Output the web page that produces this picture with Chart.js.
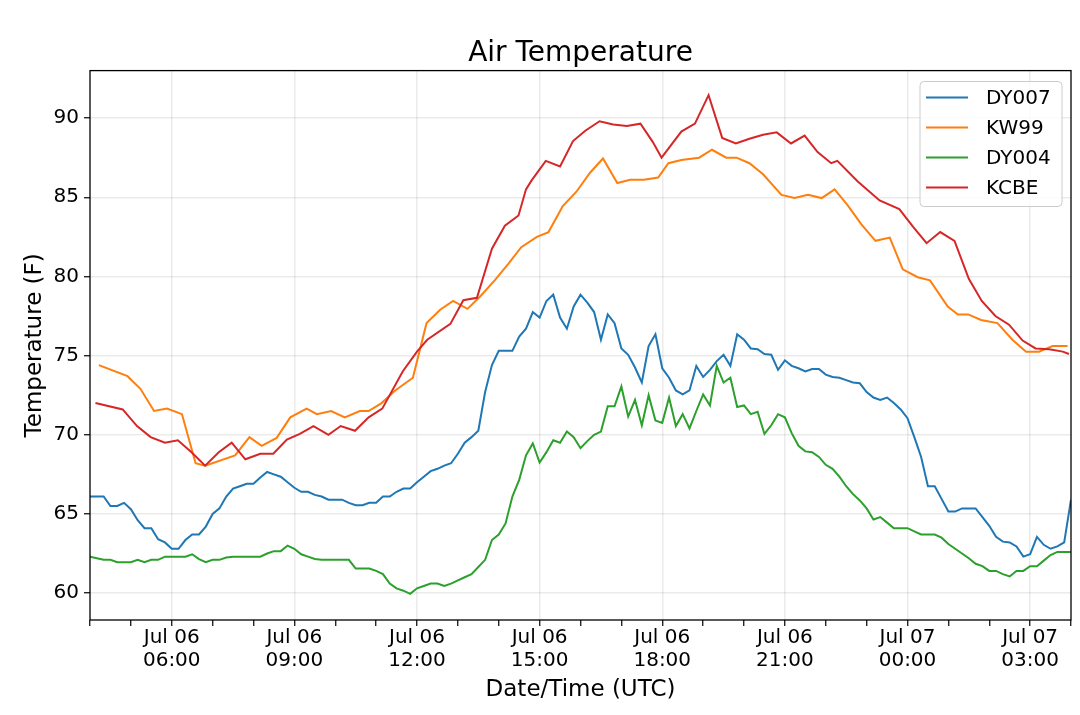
<!DOCTYPE html>
<html>
<head>
<meta charset="utf-8">
<title>Air Temperature</title>
<script src="https://cdn.jsdelivr.net/npm/chart.js@4.4.1/dist/chart.umd.min.js"></script>
<style>
  html, body { margin: 0; padding: 0; background: #ffffff; }
  #wrap { width: 1080px; height: 715px; }
</style>
</head>
<body>
<div id="wrap"><canvas id="tempChart" width="1080" height="715"></canvas></div>
<script>
// Estações DY: leituras a cada 10 minutos, começando em Jul 06 04:00 UTC
const dyStartHour = 4;
const dyStepMinutes = 10;

const dy007 = [
    66.1, 66.1, 66.1, 65.5, 65.5, 65.7, 65.3, 64.6, 64.1, 64.1,
    63.4, 63.2, 62.8, 62.8, 63.35, 63.7, 63.7, 64.2, 65.0, 65.35,
    66.1, 66.6, 66.75, 66.9, 66.9, 67.3, 67.65, 67.5, 67.35, 67.0,
    66.65, 66.4, 66.4, 66.2, 66.1, 65.9, 65.9, 65.9, 65.7, 65.55,
    65.55, 65.7, 65.7, 66.1, 66.1, 66.4, 66.6, 66.6, 67.0, 67.35,
    67.7, 67.85, 68.05, 68.2, 68.8, 69.5, 69.85, 70.25, 72.7, 74.4,
    75.3, 75.3, 75.3, 76.2, 76.7, 77.75, 77.4, 78.45, 78.85, 77.4,
    76.7, 78.1, 78.85, 78.35, 77.75, 76.0, 77.6, 77.05, 75.45, 75.05,
    74.25, 73.3, 75.6, 76.35, 74.2, 73.6, 72.8, 72.55, 72.8, 74.35,
    73.65, 74.1, 74.65, 75.05, 74.35, 76.35, 76.0, 75.45, 75.4, 75.1,
    75.05, 74.1, 74.7, 74.35, 74.2, 74.0, 74.15, 74.15, 73.8, 73.65,
    73.6, 73.45, 73.3, 73.25, 72.7, 72.35, 72.2, 72.35, 72.0, 71.6,
    71.05, 69.85, 68.6, 66.75, 66.75, 65.95, 65.15, 65.15, 65.35, 65.35,
    65.35, 64.8, 64.25, 63.55, 63.25, 63.2, 62.95, 62.3, 62.45, 63.55,
    63.05, 62.8, 62.95, 63.2, 65.9
];

const dy004 = [
    62.3, 62.2, 62.1, 62.1, 61.95, 61.95, 61.95, 62.1, 61.95, 62.1,
    62.1, 62.3, 62.3, 62.3, 62.3, 62.45, 62.15, 61.95, 62.1, 62.1,
    62.25, 62.3, 62.3, 62.3, 62.3, 62.3, 62.5, 62.65, 62.65, 63.0,
    62.8, 62.45, 62.3, 62.15, 62.1, 62.1, 62.1, 62.1, 62.1, 61.55,
    61.55, 61.55, 61.4, 61.2, 60.6, 60.3, 60.15, 59.95, 60.3, 60.45,
    60.6, 60.6, 60.45, 60.6, 60.8, 61.0, 61.2, 61.65, 62.1, 63.35,
    63.7, 64.4, 66.1, 67.15, 68.7, 69.45, 68.25, 68.9, 69.65, 69.5,
    70.2, 69.85, 69.15, 69.6, 70.0, 70.2, 71.8, 71.8, 73.05, 71.15,
    72.2, 70.6, 72.5, 70.9, 70.75, 72.35, 70.55, 71.3, 70.4, 71.5,
    72.55, 71.85, 74.35, 73.3, 73.6, 71.75, 71.85, 71.3, 71.45, 70.05,
    70.6, 71.3, 71.1, 70.1, 69.3, 68.95, 68.9, 68.6, 68.1, 67.85,
    67.35, 66.75, 66.25, 65.85, 65.35, 64.65, 64.8, 64.45, 64.1, 64.1,
    64.1, 63.9, 63.7, 63.7, 63.7, 63.5, 63.1, 62.8, 62.5, 62.2,
    61.85, 61.7, 61.4, 61.4, 61.2, 61.05, 61.4, 61.4, 61.7, 61.7,
    62.05, 62.4, 62.6, 62.6, 62.6
];

// Estações de aeroporto: horários irregulares (UTC)
const kw99Times = [
    '04:13', '04:55', '05:14', '05:34', '05:53', '06:15', '06:35', '06:49', '07:33', '07:54',
    '08:12', '08:34', '08:54', '09:18', '09:33', '09:54', '10:14', '10:36', '10:49', '11:08',
    '11:28', '11:54', '12:14', '12:34', '12:53', '13:14', '13:32', '13:54', '14:14', '14:33',
    '14:56', '15:13', '15:34', '15:54', '16:14', '16:33', '16:54', '17:13', '17:33', '17:54',
    '18:09', '18:28', '18:54', '19:13', '19:34', '19:49', '20:08', '20:28', '20:55', '21:14',
    '21:34', '21:54', '22:13', '22:32', '22:52', '23:13', '23:34', '23:53', '00:15', '00:33',
    '00:59', '01:14', '01:29', '01:48', '02:12', '02:34', '02:54', '03:13', '03:33', '03:55'
];
const kw99Temps = [
    74.4, 73.7, 72.9, 71.5, 71.65, 71.3, 68.2, 68.05, 68.7, 69.85,
    69.3, 69.8, 71.1, 71.65, 71.3, 71.5, 71.1, 71.5, 71.5, 72.0,
    72.8, 73.6, 77.05, 77.9, 78.45, 77.95, 78.7, 79.75, 80.8, 81.85,
    82.5, 82.8, 84.45, 85.35, 86.55, 87.45, 85.9, 86.1, 86.1, 86.25,
    87.15, 87.35, 87.5, 88.0, 87.5, 87.5, 87.15, 86.45, 85.15, 84.95,
    85.15, 84.95, 85.5, 84.5, 83.3, 82.25, 82.45, 80.45, 79.95, 79.75,
    78.1, 77.6, 77.6, 77.25, 77.05, 76.0, 75.25, 75.25, 75.6, 75.6
];

const kcbeTimes = [
    '04:08', '04:48', '05:09', '05:29', '05:50', '06:09', '06:29', '06:49', '07:09', '07:28',
    '07:48', '08:10', '08:29', '08:49', '09:08', '09:28', '09:50', '10:08', '10:29', '10:49',
    '11:09', '11:39', '12:00', '12:15', '12:49', '13:08', '13:28', '13:50', '14:09', '14:29',
    '14:40', '14:48', '15:09', '15:30', '15:49', '16:07', '16:28', '16:48', '17:08', '17:28',
    '17:46', '17:59', '18:28', '18:48', '19:08', '19:28', '19:48', '20:08', '20:28', '20:48',
    '21:09', '21:29', '21:48', '22:08', '22:17', '22:47', '23:19', '23:48', '00:08', '00:28',
    '00:48', '01:09', '01:30', '01:49', '02:09', '02:29', '02:49', '03:08', '03:28', '03:48',
    '03:57'
];
const kcbeTemps = [
    72.0, 71.6, 70.55, 69.85, 69.5, 69.65, 68.9, 68.05, 68.9, 69.5,
    68.45, 68.8, 68.8, 69.7, 70.05, 70.55, 70.0, 70.55, 70.25, 71.1,
    71.65, 74.0, 75.25, 76.0, 77.0, 78.5, 78.65, 81.75, 83.2, 83.85,
    85.5, 86.05, 87.3, 86.95, 88.55, 89.2, 89.8, 89.6, 89.5, 89.65,
    88.5, 87.5, 89.15, 89.65, 91.45, 88.75, 88.4, 88.7, 88.95, 89.1,
    88.4, 88.9, 87.85, 87.15, 87.3, 86.0, 84.8, 84.25, 83.15, 82.1,
    82.8, 82.25, 79.85, 78.45, 77.5, 76.95, 75.95, 75.45, 75.4, 75.25,
    75.1
];

// Eixos
const xMinHour = 4;
const xMaxHour = 28;
const xTickHours = [6, 9, 12, 15, 18, 21, 24, 27];
const xTickDates = ['Jul 06', 'Jul 06', 'Jul 06', 'Jul 06', 'Jul 06', 'Jul 06', 'Jul 07', 'Jul 07'];
const xTickTimes = ['06:00', '09:00', '12:00', '15:00', '18:00', '21:00', '00:00', '03:00'];
const yTickValues = [60, 65, 70, 75, 80, 85, 90];

const FONT = 'DejaVu Sans';
const GRID = 'rgba(0,0,0,0.08)';

// Converte 'HH:MM' em horas desde Jul 06 00:00 (depois da meia-noite = dia seguinte)
function toHours(hhmm) {
    const parts = hhmm.split(':').map(Number);
    let h = parts[0] + parts[1] / 60;
    if (h < xMinHour) h += 24;
    return h;
}

function dyPoints(values) {
    return values.map((v, i) => ({ x: dyStartHour + i * dyStepMinutes / 60, y: v }));
}

function stationPoints(times, temps) {
    return times.map((t, i) => ({ x: toHours(t), y: temps[i] }));
}

// Moldura completa em volta da área do gráfico
const framePlugin = {
    id: 'frame',
    afterDatasetsDraw(chart) {
        const a = chart.chartArea;
        const ctx = chart.ctx;
        ctx.save();
        ctx.strokeStyle = '#000000';
        ctx.lineWidth = 1.3;
        ctx.strokeRect(a.left, a.top, a.right - a.left, a.bottom - a.top);
        ctx.restore();
    }
};

// Legenda no canto superior direito, estilo matplotlib
const legendPlugin = {
    id: 'boxLegend',
    afterDraw(chart) {
        const ctx = chart.ctx;
        const x = 920, y = 81.5, w = 142, h = 125, r = 4;
        ctx.save();
        ctx.beginPath();
        ctx.moveTo(x + r, y);
        ctx.arcTo(x + w, y, x + w, y + h, r);
        ctx.arcTo(x + w, y + h, x, y + h, r);
        ctx.arcTo(x, y + h, x, y, r);
        ctx.arcTo(x, y, x + w, y, r);
        ctx.closePath();
        ctx.fillStyle = 'rgba(255,255,255,0.8)';
        ctx.fill();
        ctx.strokeStyle = '#cccccc';
        ctx.lineWidth = 1;
        ctx.stroke();

        ctx.font = '20px "' + FONT + '"';
        ctx.textBaseline = 'middle';
        ctx.textAlign = 'left';
        chart.data.datasets.forEach((ds, i) => {
            const cy = 97.5 + i * 30;
            ctx.strokeStyle = ds.borderColor;
            ctx.lineWidth = 2.2;
            ctx.beginPath();
            ctx.moveTo(926, cy);
            ctx.lineTo(968, cy);
            ctx.stroke();
            ctx.fillStyle = '#000000';
            ctx.fillText(ds.label, 986, cy + 1);
        });
        ctx.restore();
    }
};

const ctx = document.getElementById('tempChart').getContext('2d');
const tempChart = new Chart(ctx, {
    type: 'line',
    data: {
        datasets: [
            { label: 'DY007', data: dyPoints(dy007), borderColor: '#1f77b4', order: 4 },
            { label: 'KW99', data: stationPoints(kw99Times, kw99Temps), borderColor: '#ff7f0e', order: 3 },
            { label: 'DY004', data: dyPoints(dy004), borderColor: '#2ca02c', order: 2 },
            { label: 'KCBE', data: stationPoints(kcbeTimes, kcbeTemps), borderColor: '#d62728', order: 1 }
        ].map(ds => Object.assign(ds, {
            borderWidth: 2,
            pointRadius: 0,
            tension: 0,
            fill: false
        }))
    },
    options: {
        responsive: false,
        animation: false,
        devicePixelRatio: 1,
        layout: { padding: { left: 0, right: 9, top: 0, bottom: 0 } },
        plugins: {
            legend: { display: false },
            tooltip: { enabled: false },
            title: {
                display: true,
                fullSize: false,
                text: 'Air Temperature',
                color: '#000000',
                font: { family: FONT, size: 28, weight: 'normal' },
                padding: { top: 37, bottom: 0 }
            }
        },
        scales: {
            x: {
                type: 'linear',
                min: xMinHour,
                max: xMaxHour,
                afterBuildTicks: (scale) => {
                    const ticks = [];
                    for (let h = xMinHour; h <= xMaxHour; h++) ticks.push({ value: h });
                    scale.ticks = ticks;
                },
                afterFit: (scale) => { scale.height = 95; },
                border: { display: false },
                grid: {
                    color: (c) => (c.tick && xTickHours.includes(c.tick.value)) ? GRID : 'rgba(0,0,0,0)',
                    lineWidth: 1.5,
                    drawTicks: true,
                    tickLength: 6,
                    tickColor: '#000000',
                    tickWidth: 1.2
                },
                ticks: {
                    autoSkip: false,
                    maxRotation: 0,
                    padding: 0,
                    color: '#000000',
                    font: { family: FONT, size: 20, lineHeight: 1.15 },
                    callback: (value) => {
                        const k = xTickHours.indexOf(value);
                        return k >= 0 ? [xTickDates[k], xTickTimes[k]] : '';
                    }
                },
                title: {
                    display: true,
                    text: 'Date/Time (UTC)',
                    color: '#000000',
                    font: { family: FONT, size: 23 },
                    padding: { top: 0, bottom: 11 }
                }
            },
            y: {
                min: 58.3,
                max: 93.0,
                afterBuildTicks: (scale) => {
                    scale.ticks = yTickValues.map(v => ({ value: v }));
                },
                afterFit: (scale) => { scale.width = 90; },
                border: { display: false },
                grid: {
                    color: GRID,
                    lineWidth: 1.5,
                    drawTicks: true,
                    tickLength: 6,
                    tickColor: '#000000',
                    tickWidth: 1.2
                },
                ticks: {
                    padding: 5,
                    color: '#000000',
                    font: { family: FONT, size: 20 }
                },
                title: {
                    display: true,
                    text: 'Temperature (F)',
                    color: '#000000',
                    font: { family: FONT, size: 23 },
                    padding: { top: 21, bottom: 0 }
                }
            }
        }
    },
    plugins: [framePlugin, legendPlugin]
});
</script>
</body>
</html>
